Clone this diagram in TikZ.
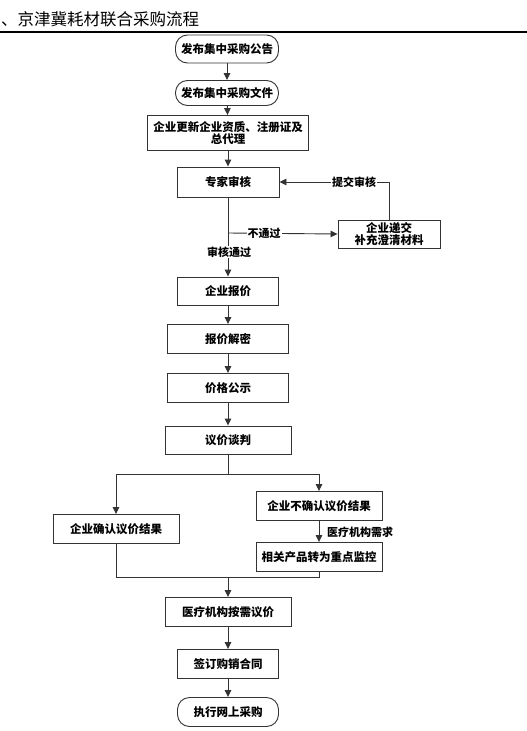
\documentclass[tikz,border=0pt]{standalone}
\usepackage{fontspec}
\setmainfont{Noto Sans CJK SC}
\usetikzlibrary{arrows.meta}
\tikzset{
  box/.style={draw=black!80, line width=0.9pt, fill=white, minimum height=28pt, inner sep=1pt,
    font=\bfseries\fontsize{11.5}{14}\selectfont, align=center},
  rbox/.style={box, rounded corners=12pt},
  arr/.style={-{Triangle[length=7pt,width=6.5pt]}, line width=0.9pt, draw=black!80},
  ln/.style={line width=0.9pt, draw=black!80},
  lbl/.style={fill=white, inner sep=1pt, font=\bfseries\fontsize{11}{13}\selectfont},
  hdr/.style={font=\fontsize{16.5}{19}\selectfont, inner sep=0pt}
}
\begin{document}
\begin{tikzpicture}[x=1pt,y=-1pt]
\useasboundingbox (0,0) rectangle (527,731);
\node[hdr, anchor=west] (title) at (1,19) {、京津冀耗材联合采购流程};
\coordinate (hl) at (0,32);
\coordinate (hr) at (527,32);
\draw[line width=1.2pt] (hl) -- (hr);

\node[rbox, minimum width=103pt, minimum height=28pt] (n1) at (227,49) {发布集中采购公告};
\node[rbox, minimum width=103pt, minimum height=25pt] (n2) at (227,93) {发布集中采购文件};
\node[box, minimum width=161pt, minimum height=35pt, inner sep=0pt] (n3) at (228,133) {企业更新企业资质、注册证及\\[-2pt]总代理};
\node[box, minimum width=102pt, minimum height=30pt] (n4) at (228,182) {专家审核};
\node[box, minimum width=102pt, minimum height=28pt, inner sep=0pt] (n5) at (389,234) {企业递交\\[-2pt]补充澄清材料};
\node[box, minimum width=101pt, minimum height=28pt] (n6) at (228,291) {企业报价};
\node[box, minimum width=121pt, minimum height=29pt] (n7) at (228,339) {报价解密};
\node[box, minimum width=121pt, minimum height=29pt] (n8) at (228,388) {价格公示};
\node[box, minimum width=126pt, minimum height=28pt] (n9) at (228,440) {议价谈判};
\node[box, minimum width=126pt, minimum height=29pt] (n10) at (116,529) {企业确认议价结果};
\node[box, minimum width=126pt, minimum height=29pt] (n11) at (319,506) {企业不确认议价结果};
\node[box, minimum width=126pt, minimum height=29pt] (n12) at (319,557) {相关产品转为重点监控};
\node[box, minimum width=126pt, minimum height=29pt] (n13) at (228,612) {医疗机构按需议价};
\node[box, minimum width=101pt, minimum height=29pt] (n14) at (228,664) {签订购销合同};
\node[rbox, minimum width=101pt, minimum height=29pt] (n15) at (228,712) {执行网上采购};

\draw[arr] (n1) -- (n2);
\draw[arr] (n2) -- (n3);
\draw[arr] (n3) -- (n4);
\coordinate (b1) at (228,233);
\draw[arr] (n4) -- (n6);
\draw[arr] (b1) -- (n5.west);
\node[lbl] (l1) at (264,233) {不通过};
\node[lbl] (l2) at (229,252) {审核通过};
\draw[arr] (n5.north) |- (n4.east);
\node[lbl] (l3) at (354,182) {提交审核};
\draw[arr] (n6) -- (n7);
\draw[arr] (n7) -- (n8);
\draw[arr] (n8) -- (n9);
\coordinate (s1) at (228,474);
\draw[ln] (n9.south) -- (s1);
\draw[arr] (s1) -| (n10.north);
\draw[arr] (s1) -| (n11.north);
\draw[arr] (n11) -- (n12);
\node[lbl, fill=none, anchor=west] (l4) at (326,532) {医疗机构需求};
\coordinate (m1) at (228,577);
\draw[ln] (n10.south) |- (m1);
\draw[ln] (n12.south) |- (m1);
\draw[arr] (m1) -- (n13.north);
\draw[arr] (n13) -- (n14);
\draw[arr] (n14) -- (n15);
\end{tikzpicture}
\end{document}
